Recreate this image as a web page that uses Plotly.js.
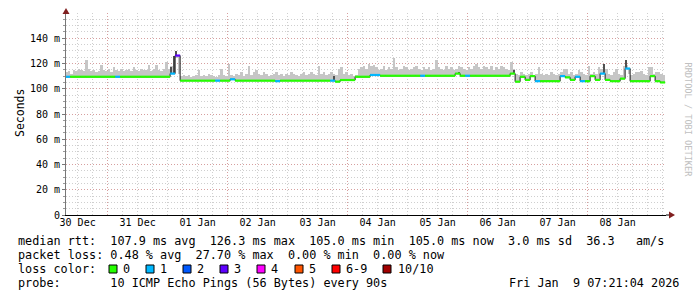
<!DOCTYPE html>
<html><head><meta charset="utf-8">
<script src="https://cdn.plot.ly/plotly-3.0.1.min.js"></script>
<style>html,body{margin:0;padding:0;background:#fff}</style>
</head><body><div id="chart" style="width:697px;height:297px"></div>
<script>
// ---------- data ----------
const dayLabels = ['30 Dec','31 Dec','01 Jan','02 Jan','03 Jan','04 Jan','05 Jan','06 Jan','07 Jan','08 Jan'];
const dayLabelPos = ['2025-12-30 12:00','2025-12-31 12:00','2026-01-01 12:00','2026-01-02 12:00','2026-01-03 12:00',
                     '2026-01-04 12:00','2026-01-05 12:00','2026-01-06 12:00','2026-01-07 12:00','2026-01-08 12:00'];
const majorGridPos = ['2025-12-31 00:00','2026-01-02 00:00','2026-01-04 00:00','2026-01-06 00:00','2026-01-08 00:00'];
const yTickVals = [0,20,40,60,80,100,120,140];
const yTickText = ['0','20 m','40 m','60 m','80 m','100 m','120 m','140 m'];
const rangeStart = '2025-12-30 07:21:04';
const rangeEnd = '2026-01-09 07:21:04';

// median rtt (ms), 2-hour bins starting 2025-12-30 07:00 (one row per day)
const medianRtt = [
  109.5,109.5,109.5,109.5,109.5,109.5,109.5,109.5,109.5,109.5,109.5,109.5,
  109.5,109.5,109.5,109.5,109.5,109.5,109.5,109.5,109.5,112.0,126.3,106.4,
  106.4,106.4,106.4,106.4,106.4,106.4,106.4,106.4,106.4,107.5,106.4,106.4,
  106.4,106.4,106.4,106.4,106.4,106.4,106.0,106.4,106.4,106.4,106.4,106.4,
  106.4,106.4,106.4,106.4,106.4,106.4,105.6,106.9,106.9,106.9,109.5,109.5,
  109.5,110.9,110.9,110.3,110.3,110.3,110.3,110.3,110.3,110.3,110.3,110.3,
  110.3,110.3,110.3,110.3,110.3,110.3,112.0,110.3,110.3,110.3,110.3,110.3,
  110.3,110.3,110.3,110.3,110.3,112.0,105.6,109.5,107.0,110.0,106.0,106.0,
  106.0,106.0,106.0,110.0,109.0,107.0,109.5,106.0,106.0,110.0,107.0,112.0,
  107.0,106.0,106.0,108.0,116.0,106.0,106.0,106.0,106.0,110.0,106.0,105.0
];
// lost pings out of 10, same bins
const lossCount = [
  1,0,0,0,0,0,0,0,0,0,1,0,
  0,0,0,0,0,0,0,0,0,1,3,0,
  0,0,0,0,0,0,1,0,0,1,0,0,
  0,0,0,0,0,0,1,0,0,0,0,0,
  0,0,0,0,0,1,0,0,0,0,0,0,
  0,1,1,0,0,0,0,0,0,0,0,1,
  0,0,0,0,0,0,0,0,1,0,0,0,
  0,0,0,0,0,0,0,0,0,0,1,0,
  0,0,0,1,0,0,1,1,0,0,0,1,
  0,0,0,0,1,0,0,0,0,0,0,0
];
// top of ping smoke (ms), 1-hour bins starting 2025-12-30 07:00
const smokeTop = [
  113,114,112,115,114,116,115,114,123,116,114,115,113,114,119,115,114,116,113,117,115,114,116,114,
  115,116,114,117,115,114,116,115,115,119,114,116,119,115,114,116,121,116,118,120,124,112,110,111,
  110,111,109,110,111,115,110,111,110,112,111,110,109,111,116,111,110,120,111,110,112,111,113,110,
  112,118,111,113,115,112,111,113,112,110,111,112,113,111,112,110,112,111,113,112,111,110,112,113,
  111,112,113,112,111,118,112,113,111,112,113,112,111,116,117,112,113,111,112,110,111,116,117,118,
  116,120,118,119,117,115,116,118,115,117,116,124,117,115,116,118,117,115,116,117,118,116,115,117,
  116,117,115,116,123,117,116,115,118,116,117,115,116,118,117,116,115,117,116,118,120,117,116,118,
  117,116,118,115,117,116,118,117,116,115,121,116,112,111,113,112,111,112,113,111,112,117,112,111,
  112,111,113,112,111,112,113,116,116,112,113,111,112,115,113,112,111,118,112,113,112,117,116,118,
  116,112,111,113,116,112,111,118,119,112,111,112,113,113,114,112,111,117,117,112,113,113,112,111
];
// dark smoke (wide ping spread): hour index and top (ms)
const darkSmokeHour = [42,43,44,107,125,157,179,215,224];
const darkSmokeTop  = [117,126,130,110,112,113,115,120,123];

const lossLabels = ['0','1','2','3','4','5','6-9','10/10'];
const lossLegendColors = ['#26ff00','#00b8ff','#0059ff','#5e00ff','#ff00ff','#ff5500','#ff0000','#a10000'];
const lossColorByCount = ['#26ff00','#00b8ff','#0059ff','#5e00ff','#ff00ff','#ff5500','#ff0000','#ff0000','#ff0000','#ff0000','#a10000'];

const statsLine = 'median rtt:  107.9 ms avg  126.3 ms max  105.0 ms min  105.0 ms now  3.0 ms sd  36.3   am/s';
const lossLine  = 'packet loss: 0.48 % avg  27.70 % max  0.00 % min  0.00 % now';
const colorLine = 'loss color:';
const probeLine = 'probe:       10 ICMP Echo Pings (56 Bytes) every 90s';
const stampLine = 'Fri Jan  9 07:21:04 2026';
const creditLine = 'RRDTOOL / TOBI OETIKER';

// ---------- build ----------
const MONO = 'DejaVu Sans Mono, monospace';
const t0 = Date.UTC(2025, 11, 30, 7, 0, 0);
const H = 3600000;
const nb = (s) => s.replace(/ /g, '\u00a0');

const smokeX = smokeTop.map((_, j) => t0 + j * H + H / 2);
const smokeBase = smokeTop.map((_, j) => medianRtt[Math.floor(j / 2)] - 0.6);
const smokeH = smokeTop.map((v, j) => v - smokeBase[j]);

const darkX = darkSmokeHour.map(j => t0 + j * H + H / 2);
const darkBase = darkSmokeHour.map(j => medianRtt[Math.floor(j / 2)]);
const darkH = darkSmokeTop.map((v, k) => v - darkBase[k]);

const traces = [];
traces.push({type:'bar', x:smokeX, y:smokeH, base:smokeBase, width:H,
  marker:{color:'#c6c6c6', line:{width:0}}, hoverinfo:'skip'});
traces.push({type:'bar', x:darkX, y:darkH, base:darkBase, width:H * 0.8,
  marker:{color:'#505050', line:{width:0}}, hoverinfo:'skip'});

// black step line of the median
const stepX = medianRtt.map((_, i) => t0 + i * 2 * H).concat([t0 + medianRtt.length * 2 * H]);
const stepY = medianRtt.concat([medianRtt[medianRtt.length - 1]]);
traces.push({type:'scatter', mode:'lines', x:stepX, y:stepY, line:{shape:'hv', color:'#1a1a1a', width:1}, hoverinfo:'skip'});

// loss-coloured median segments
const segs = {};
medianRtt.forEach((m, i) => {
  const c = lossColorByCount[lossCount[i]];
  if (!segs[c]) segs[c] = {x:[], y:[]};
  segs[c].x.push(t0 + i * 2 * H, t0 + (i + 1) * 2 * H, null);
  segs[c].y.push(m, m, null);
});
Object.keys(segs).forEach(c => {
  traces.push({type:'scatter', mode:'lines', x:segs[c].x, y:segs[c].y, line:{color:c, width:2.2}, hoverinfo:'skip'});
});
// dummy trace to carry the label axis
traces.push({type:'scatter', mode:'markers', x:dayLabelPos, y:dayLabelPos.map(() => null), xaxis:'x2', yaxis:'y', hoverinfo:'skip'});

// ---------- layout ----------
const L = 66, R = 31, T = 13, B = 82, W = 697, HT = 297;
const pw = W - L - R, ph = HT - T - B;
const px = (x) => (x - L) / pw;
const py = (y) => (HT - B - y) / ph;

const ann = [];
const legendFont = {family: MONO, size: 11.8, color: '#000'};
[[statsLine, 241], [lossLine, 255], [colorLine, 269], [probeLine, 283]].forEach(([s, y]) => {
  ann.push({xref:'paper', yref:'paper', x:px(16), y:py(y), xanchor:'left', yanchor:'middle', text:nb(s), showarrow:false, font:legendFont});
});
ann.push({xref:'paper', yref:'paper', x:px(681), y:py(283), xanchor:'right', yanchor:'middle', text:nb(stampLine), showarrow:false, font:legendFont});
const sqX = [109, 146, 183, 220, 257, 295, 332, 383];
const lblX = [121, 158, 195, 232, 269, 307, 344, 396];
const shapes = [];
lossLabels.forEach((lb, k) => {
  ann.push({xref:'paper', yref:'paper', x:px(lblX[k]), y:py(269), xanchor:'left', yanchor:'middle', text:lb, showarrow:false, font:legendFont});
  shapes.push({type:'rect', xref:'paper', yref:'paper', x0:px(sqX[k]), x1:px(sqX[k] + 8), y0:py(273), y1:py(265),
    fillcolor:lossLegendColors[k], line:{color:'#000', width:1}});
});
ann.push({xref:'paper', yref:'paper', x:px(11), y:py(113), text:'Seconds', textangle:-90, showarrow:false,
  font:{family: MONO, size: 11.5, color:'#000'}});
ann.push({xref:'paper', yref:'paper', x:px(688), y:py(60), text:creditLine, textangle:90, showarrow:false,
  xanchor:'center', font:{family: MONO, size: 8.6, color:'#c0c0c0'}});

// axis extensions and arrows
shapes.push({type:'line', xref:'paper', yref:'paper', x0:1, x1:px(670), y0:0, y1:0, line:{color:'#000', width:1}});
shapes.push({type:'path', xref:'paper', yref:'paper',
  path:`M ${px(669)} ${py(211.5)} L ${px(675)} ${py(215)} L ${px(669)} ${py(218.5)} Z`, fillcolor:'#801f1f', line:{width:0}});
shapes.push({type:'line', xref:'paper', yref:'paper', x0:0, x1:0, y0:1, y1:py(10), line:{color:'#777', width:1}});
shapes.push({type:'path', xref:'paper', yref:'paper',
  path:`M ${px(62.5)} ${py(14)} L ${px(66)} ${py(8)} L ${px(69.5)} ${py(14)} Z`, fillcolor:'#801f1f', line:{width:0}});

const minorGrid = '#cfcfcf';
const majorGrid = 'rgba(222,100,100,0.45)';
const layout = {
  width: W, height: HT,
  margin: {l:L, r:R, t:T, b:B, pad:0},
  paper_bgcolor:'#fff', plot_bgcolor:'#fff',
  showlegend:false, barmode:'overlay', bargap:0,
  font:{family: MONO, size:10, color:'#000'},
  xaxis:{type:'date', range:[rangeStart, rangeEnd], tickmode:'array', tickvals:majorGridPos,
    showticklabels:false, ticks:'', showgrid:true, gridcolor:majorGrid, griddash:'1px,2px', gridwidth:1,
    zeroline:false, showline:true, linecolor:'#000', linewidth:1, fixedrange:true,
    minor:{tickmode:'linear', tick0:'2025-12-30 00:00', dtick:6*H, showgrid:true, gridcolor:minorGrid, griddash:'1px,2px', gridwidth:1, ticks:''}},
  xaxis2:{type:'date', overlaying:'x', anchor:'y', side:'bottom', range:[rangeStart, rangeEnd],
    tickmode:'array', tickvals:dayLabelPos, ticktext:dayLabels, showgrid:false, zeroline:false, showline:false,
    ticks:'', tickfont:{family: MONO, size:10, color:'#000'}, fixedrange:true},
  yaxis:{range:[0,160], tickmode:'array', tickvals:yTickVals, ticktext:yTickText,
    tickfont:{family: MONO, size:10, color:'#000'}, ticks:'outside', ticklen:3, tickcolor:'#777',
    showgrid:true, gridcolor:majorGrid, griddash:'1px,2px', gridwidth:1, zeroline:false,
    showline:true, linecolor:'#777', linewidth:1, fixedrange:true,
    minor:{tickmode:'linear', tick0:0, dtick:5, showgrid:true, gridcolor:minorGrid, griddash:'1px,2px', gridwidth:1, ticks:'outside', ticklen:2, tickcolor:'#999'}},
  annotations: ann,
  shapes: shapes
};
Plotly.newPlot('chart', traces, layout, {displayModeBar:false, staticPlot:true});
</script></body></html>
